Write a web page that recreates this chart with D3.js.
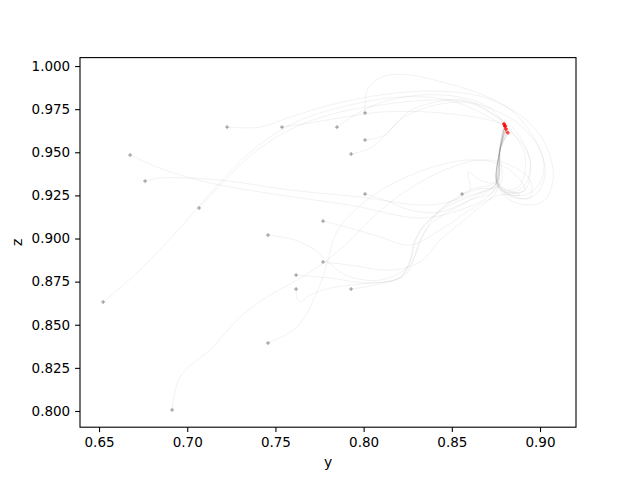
<!DOCTYPE html>
<html>
<head>
<meta charset="utf-8">
<script src="https://cdn.jsdelivr.net/npm/d3@7"></script>
<style>
  html, body { margin: 0; padding: 0; background: #fff; }
  svg text { font-family: "DejaVu Sans", sans-serif; }
</style>
</head>
<body>
<div id="chart"></div>
<script>
// ── Data: trajectories in (y, z) ─────────────────────────────────────────────
const trajectories = [
  [[0.6523,0.8632],[0.6732,0.8817],[0.6948,0.9049],[0.7158,0.9293],[0.7356,0.9501],[0.7583,0.9658],[0.7810,0.9745],[0.8206,0.9820],[0.8490,0.9800],[0.8717,0.9700],[0.8858,0.9600],[0.8943,0.9455],[0.8915,0.9310],[0.8830,0.9270],[0.8756,0.9328],[0.8773,0.9513],[0.8802,0.9652]],
  [[0.6676,0.9484],[0.6874,0.9397],[0.7129,0.9322],[0.7526,0.9252],[0.7923,0.9194],[0.8320,0.9119],[0.8546,0.9165],[0.8717,0.9252],[0.8756,0.9339],[0.8773,0.9513],[0.8807,0.9635]],
  [[0.6761,0.9333],[0.6846,0.9351],[0.7186,0.9339],[0.7583,0.9281],[0.7980,0.9241],[0.8376,0.9194],[0.8603,0.9252],[0.8745,0.9310],[0.8770,0.9513],[0.8796,0.9664]],
  [[0.6914,0.8006],[0.6959,0.8197],[0.7146,0.8371],[0.7282,0.8528],[0.7452,0.8661],[0.7622,0.8759],[0.7770,0.8858],[0.7895,0.8962],[0.8036,0.9107],[0.8206,0.9252],[0.8433,0.9386],[0.8660,0.9455],[0.8830,0.9426],[0.8943,0.9339],[0.8943,0.9235],[0.8830,0.9252],[0.8756,0.9322],[0.8775,0.9513],[0.8813,0.9617]],
  [[0.7067,0.9177],[0.7243,0.9368],[0.7413,0.9525],[0.7639,0.9658],[0.7866,0.9733],[0.8093,0.9774],[0.8376,0.9803],[0.8603,0.9790],[0.8773,0.9730],[0.8887,0.9658],[0.9000,0.9513],[0.9028,0.9368],[0.8972,0.9252],[0.8858,0.9235],[0.8756,0.9310],[0.8773,0.9513],[0.8802,0.9652]],
  [[0.7226,0.9646],[0.7413,0.9646],[0.7583,0.9704],[0.7810,0.9774],[0.8093,0.9832],[0.8376,0.9855],[0.8660,0.9825],[0.8887,0.9716],[0.9000,0.9600],[0.9063,0.9455],[0.9074,0.9339],[0.9028,0.9223],[0.8943,0.9194],[0.8830,0.9223],[0.8756,0.9310],[0.8770,0.9513],[0.8796,0.9664]],
  [[0.7458,0.9020],[0.7611,0.8991],[0.7724,0.8933],[0.7798,0.8864],[0.7895,0.8788],[0.8093,0.8759],[0.8263,0.8846],[0.8320,0.8991],[0.8433,0.9165],[0.8603,0.9281],[0.8745,0.9328],[0.8773,0.9513],[0.8819,0.9612]],
  [[0.7458,0.8394],[0.7622,0.8487],[0.7741,0.8701],[0.7798,0.8875],[0.7838,0.9020],[0.7951,0.9165],[0.8150,0.9310],[0.8433,0.9426],[0.8660,0.9455],[0.8830,0.9397],[0.8915,0.9281],[0.8802,0.9270],[0.8756,0.9328],[0.8773,0.9513],[0.8802,0.9652]],
  [[0.7537,0.9646],[0.7696,0.9670],[0.7866,0.9699],[0.8093,0.9733],[0.8376,0.9733],[0.8660,0.9699],[0.8796,0.9664]],
  [[0.7617,0.8788],[0.7810,0.8771],[0.8036,0.8742],[0.8235,0.8788],[0.8291,0.8904],[0.8376,0.9078],[0.8603,0.9223],[0.8745,0.9310],[0.8773,0.9513],[0.8807,0.9635]],
  [[0.7617,0.8707],[0.7622,0.8655],[0.7639,0.8632],[0.7696,0.8672],[0.7810,0.8713],[0.7980,0.8736],[0.8206,0.8771],[0.8263,0.8875],[0.8320,0.9049],[0.8490,0.9194],[0.8660,0.9264],[0.8756,0.9322],[0.8773,0.9513],[0.8802,0.9652]],
  [[0.7770,0.9101],[0.7923,0.9061],[0.8093,0.9009],[0.8263,0.8962],[0.8433,0.9049],[0.8603,0.9165],[0.8773,0.9252],[0.8887,0.9252],[0.8773,0.9310],[0.8773,0.9513],[0.8813,0.9617]],
  [[0.7770,0.8864],[0.7923,0.8846],[0.8150,0.8817],[0.8320,0.8864],[0.8433,0.8991],[0.8603,0.9136],[0.8756,0.9281],[0.8770,0.9513],[0.8802,0.9652]],
  [[0.7849,0.9646],[0.7951,0.9716],[0.8093,0.9786],[0.8320,0.9832],[0.8546,0.9820],[0.8717,0.9757],[0.8796,0.9664]],
  [[0.7929,0.9490],[0.8048,0.9530],[0.8150,0.9629],[0.8252,0.9733],[0.8405,0.9791],[0.8575,0.9803],[0.8745,0.9716],[0.8858,0.9629],[0.8943,0.9455],[0.8915,0.9281],[0.8802,0.9270],[0.8756,0.9328],[0.8773,0.9513],[0.8807,0.9635]],
  [[0.7929,0.8707],[0.8036,0.8725],[0.8206,0.8777],[0.8263,0.8864],[0.8291,0.8991],[0.8433,0.9165],[0.8632,0.9281],[0.8773,0.9310],[0.8775,0.9513],[0.8802,0.9652]],
  [[0.8008,0.9728],[0.8025,0.9872],[0.8121,0.9942],[0.8263,0.9948],[0.8433,0.9910],[0.8632,0.9850],[0.8830,0.9750],[0.8943,0.9620],[0.9020,0.9455],[0.9000,0.9322],[0.8915,0.9252],[0.8802,0.9264],[0.8756,0.9328],[0.8773,0.9513],[0.8819,0.9612]],
  [[0.8008,0.9571],[0.8121,0.9600],[0.8206,0.9687],[0.8348,0.9757],[0.8575,0.9790],[0.8717,0.9730],[0.8830,0.9629],[0.8915,0.9484],[0.8887,0.9310],[0.8802,0.9281],[0.8756,0.9339],[0.8773,0.9513],[0.8802,0.9652]],
  [[0.8008,0.9258],[0.8121,0.9223],[0.8263,0.9165],[0.8433,0.9154],[0.8603,0.9223],[0.8745,0.9281],[0.8773,0.9513],[0.8796,0.9664]],
  [[0.8558,0.9258],[0.8603,0.9281],[0.8592,0.9386],[0.8660,0.9339],[0.8756,0.9328],[0.8773,0.9513],[0.8807,0.9635]]
];

const xTicks = [0.65, 0.70, 0.75, 0.80, 0.85, 0.90];
const yTicks = [0.800, 0.825, 0.850, 0.875, 0.900, 0.925, 0.950, 0.975, 1.000];
const xDomain = [0.6392, 0.9204];
const yDomain = [0.7906, 1.0049];

// ── Layout (matplotlib default axes box) ──────────────────────────────────────
const width = 640, height = 480;
const margin = { top: 57.6, right: 64, bottom: 52.8, left: 80 };
const innerW = width - margin.left - margin.right;
const innerH = height - margin.top - margin.bottom;

const x = d3.scaleLinear().domain(xDomain).range([0, innerW]);
const y = d3.scaleLinear().domain(yDomain).range([innerH, 0]);

const svg = d3.select('#chart').append('svg')
    .attr('width', width).attr('height', height);

const g = svg.append('g')
    .attr('transform', 'translate(' + margin.left + ',' + margin.top + ')');

// ── Trajectories ──────────────────────────────────────────────────────────────
const line = d3.line()
    .x(d => x(d[0])).y(d => y(d[1]))
    .curve(d3.curveCatmullRom.alpha(0.5));

g.append('g').selectAll('path')
    .data(trajectories)
    .join('path')
    .attr('d', line)
    .attr('fill', 'none')
    .attr('stroke', '#808080')
    .attr('stroke-opacity', 0.13)
    .attr('stroke-width', 0.8);

// start markers (gray +) and end markers (red +)
function plus(sel, size) {
    return sel.attr('d', 'M' + (-size) + ',0H' + size + 'M0,' + (-size) + 'V' + size);
}

plus(g.append('g').selectAll('path')
    .data(trajectories)
    .join('path')
    .attr('transform', d => 'translate(' + x(d[0][0]) + ',' + y(d[0][1]) + ')'), 2)
    .attr('stroke', '#808080').attr('stroke-width', 0.8);

plus(g.append('g').selectAll('path')
    .data(trajectories)
    .join('path')
    .attr('transform', d => {
        const e = d[d.length - 1];
        return 'translate(' + x(e[0]) + ',' + y(e[1]) + ')';
    }), 2)
    .attr('stroke', 'red').attr('stroke-opacity', 0.4).attr('stroke-width', 0.9);

// ── Axes ──────────────────────────────────────────────────────────────────────
const xAxis = g.append('g')
    .attr('transform', 'translate(0,' + innerH + ')')
    .call(d3.axisBottom(x).tickValues(xTicks).tickFormat(d3.format('.2f'))
        .tickSize(4.9).tickSizeOuter(0).tickPadding(4.9));

const yAxis = g.append('g')
    .call(d3.axisLeft(y).tickValues(yTicks).tickFormat(d3.format('.3f'))
        .tickSize(4.9).tickSizeOuter(0).tickPadding(4.9));

[xAxis, yAxis].forEach(a => {
    a.select('.domain').remove();
    a.selectAll('line').attr('stroke', '#000').attr('stroke-width', 1.1);
    a.selectAll('text').style('font-size', '13.5px').attr('fill', '#000');
});

// frame
g.append('rect')
    .attr('width', innerW).attr('height', innerH)
    .attr('fill', 'none').attr('stroke', '#000').attr('stroke-width', 1.1);

// axis labels
g.append('text')
    .attr('x', innerW / 2).attr('y', innerH + 40)
    .attr('text-anchor', 'middle')
    .style('font-size', '13.9px')
    .text('y');

g.append('text')
    .attr('transform', 'translate(' + (-58) + ',' + (innerH / 2) + ') rotate(-90)')
    .attr('text-anchor', 'middle')
    .style('font-size', '13.9px')
    .text('z');
</script>
</body>
</html>
